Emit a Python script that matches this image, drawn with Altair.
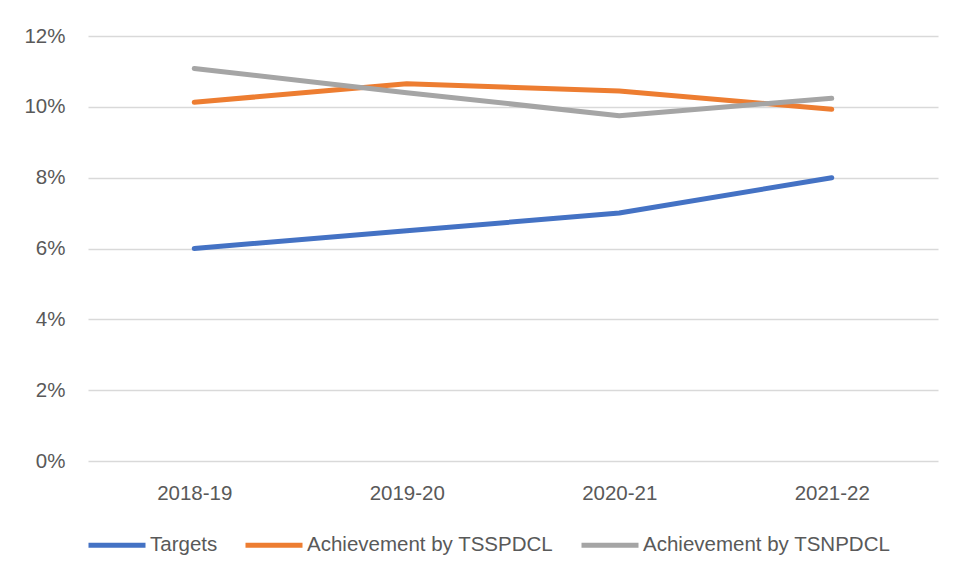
import altair as alt
import pandas as pd

years = ["2018-19", "2019-20", "2020-21", "2021-22"]
series_names = ["Targets", "Achievement by TSSPDCL", "Achievement by TSNPDCL"]
targets = [0.060, 0.065, 0.070, 0.080]
tsspdcl = [0.1013, 0.1065, 0.1045, 0.0993]
tsnpdcl = [0.1108, 0.1040, 0.0975, 0.1024]
colors = ["#4472C4", "#ED7D31", "#A5A5A5"]

rows = []
for name, vals in zip(series_names, [targets, tsspdcl, tsnpdcl]):
    for y, v in zip(years, vals):
        rows.append({"Year": y, "Series": name, "Value": v})
df = pd.DataFrame(rows)

FONT = "Liberation Sans"
TXT = "#595959"
FS = 20.5

chart = alt.Chart(df).mark_line(strokeWidth=5, strokeCap="round", strokeJoin="round").encode(
    x=alt.X("Year:N", sort=years, scale=alt.Scale(paddingInner=0, paddingOuter=0.0),
            axis=alt.Axis(title=None, labelAngle=0, domain=False, ticks=False, grid=False,
                          labelPadding=22, labelFontSize=FS, labelColor=TXT, labelFont=FONT)),
    y=alt.Y("Value:Q", scale=alt.Scale(domain=[0, 0.12], nice=False),
            axis=alt.Axis(title=None, format=".0%", values=[0, 0.02, 0.04, 0.06, 0.08, 0.10, 0.12],
                          domain=False, ticks=False, labelPadding=23, labelFontSize=FS,
                          labelColor=TXT, labelFont=FONT, gridColor="#D9D9D9", gridWidth=1.3)),
    color=alt.Color("Series:N", scale=alt.Scale(domain=series_names, range=colors),
                    legend=alt.Legend(title=None, orient="none", legendX=-2, legendY=478,
                                      direction="horizontal", symbolType="stroke",
                                      symbolSize=3249, symbolStrokeWidth=5,
                                      labelFontSize=FS, labelColor=TXT, labelFont=FONT,
                                      labelLimit=0, labelOffset=2, columnPadding=17)),
    order=alt.Order("Year:N"),
).properties(
    width=850, height=425,
    background="white",
    autosize=alt.AutoSizeParams(type="none"),
    padding={"left": 80, "top": 28, "right": 9, "bottom": 110},
).configure_view(stroke=None)

chart.save("out.html", embed_options={"renderer": "svg", "actions": False})
